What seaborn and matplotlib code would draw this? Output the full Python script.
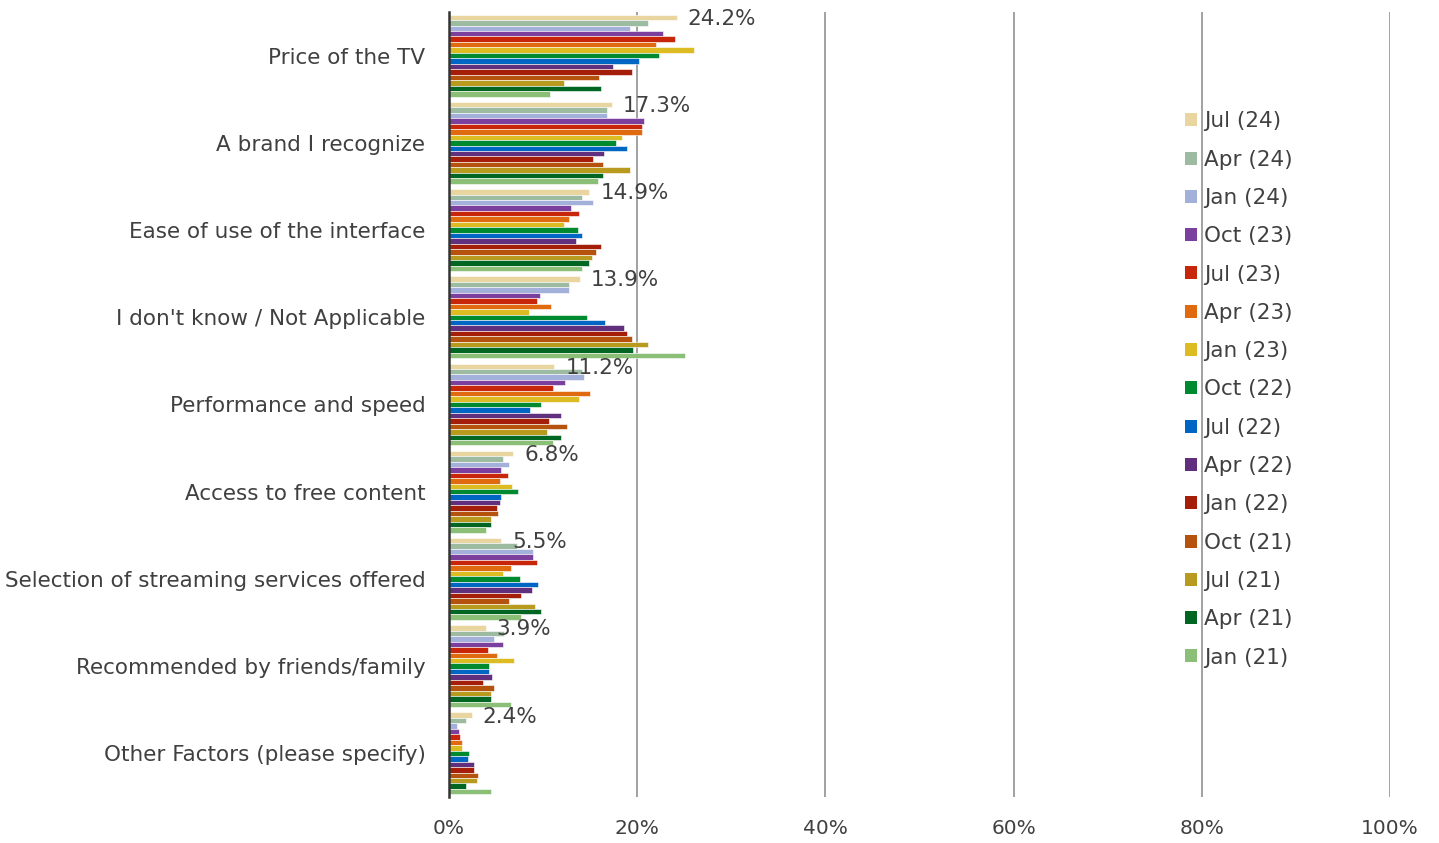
import pandas as pd
import seaborn as sns
import matplotlib.pyplot as plt
from matplotlib.patches import Patch

categories = ["Price of the TV", "A brand I recognize", "Ease of use of the interface",
              "I don't know / Not Applicable", "Performance and speed", "Access to free content",
              "Selection of streaming services offered", "Recommended by friends/family",
              "Other Factors (please specify)"]

waves = ["Jul (24)", "Apr (24)", "Jan (24)", "Oct (23)", "Jul (23)", "Apr (23)", "Jan (23)",
         "Oct (22)", "Jul (22)", "Apr (22)", "Jan (22)", "Oct (21)", "Jul (21)", "Apr (21)", "Jan (21)"]

colors = ["#E8D5A0", "#9DBBA0", "#A3B1DA", "#7B3F9E", "#C8260A", "#E06A10", "#DDBB22",
          "#008A30", "#0066C4", "#60307E", "#A41E0A", "#B5530E", "#B89A1E", "#006622", "#8BBF78"]

# percent values, one list per category, in wave order (Jul 24 ... Jan 21)
price = [24.2, 21.1, 19.2, 22.7, 24.0, 22.0, 26.0, 22.3, 20.2, 17.4, 19.5, 15.9, 12.2, 16.2, 10.7]
brand = [17.3, 16.8, 16.8, 20.7, 20.5, 20.5, 18.4, 17.7, 18.9, 16.5, 15.3, 16.4, 19.2, 16.4, 15.8]
ease = [14.9, 14.1, 15.3, 13.0, 13.8, 12.7, 12.2, 13.7, 14.1, 13.5, 16.2, 15.6, 15.2, 14.9, 14.1]
dont_know = [13.9, 12.7, 12.8, 9.7, 9.4, 10.8, 8.5, 14.7, 16.6, 18.6, 18.9, 19.5, 21.2, 19.6, 25.1]
performance = [11.2, 14.1, 14.3, 12.3, 11.0, 15.0, 13.8, 9.8, 8.6, 11.9, 10.6, 12.5, 10.4, 11.9, 11.0]
free_content = [6.8, 5.7, 6.4, 5.5, 6.3, 5.4, 6.7, 7.3, 5.5, 5.4, 5.1, 5.2, 4.5, 4.5, 3.9]
streaming = [5.5, 7.2, 8.9, 8.9, 9.4, 6.6, 5.7, 7.5, 9.5, 8.8, 7.6, 6.4, 9.1, 9.8, 7.7]
recommended = [3.9, 5.8, 4.8, 5.7, 4.1, 5.1, 6.9, 4.3, 4.2, 4.6, 3.6, 4.8, 4.5, 4.5, 6.6]
other = [2.4, 1.8, 0.9, 1.1, 1.2, 1.4, 1.4, 2.1, 2.0, 2.7, 2.7, 3.1, 3.0, 1.8, 4.5]

values = [price, brand, ease, dont_know, performance, free_content, streaming, recommended, other]

rows = []
for cat, vals in zip(categories, values):
    for w, v in zip(waves, vals):
        rows.append({"factor": cat, "wave": w, "pct": v})
df = pd.DataFrame(rows)

sns.set_style("white")
plt.rcParams['font.family'] = ['DejaVu Sans']

fig = plt.figure(figsize=(14.39, 8.43), dpi=100)
ax = fig.add_axes([449 / 1439, 1 - 797 / 843, (1390 - 449) / 1439, (797 - 12) / 843])

sns.barplot(data=df, y="factor", x="pct", hue="wave", order=categories, hue_order=waves,
            palette=colors, orient="h", width=0.94, saturation=1, edgecolor="white",
            linewidth=0.4, legend=False, ax=ax)

ax.set_xlim(0, 100)
ax.set_xticks(range(0, 101, 20))
ax.set_xticklabels([f"{t}%" for t in range(0, 101, 20)])
ax.set_xlabel("")
ax.set_ylabel("")
ax.xaxis.grid(True, color="#9a9a9a", linewidth=1.3)
ax.set_axisbelow(True)
for s in ["top", "right", "bottom"]:
    ax.spines[s].set_visible(False)
ax.spines["left"].set_color("#333333")
ax.spines["left"].set_linewidth(1.8)
ax.tick_params(axis="y", length=0, labelsize=15.5, colors="#404040", pad=17)
ax.tick_params(axis="x", length=0, labelsize=14.5, colors="#404040", pad=16)

# data labels on the most recent wave (Jul 24)
for i, vals in enumerate(values):
    v = vals[0]
    bar_y = i - 0.94 / 2 + 0.94 / 15 / 2
    ax.annotate(f"{v:.1f}%", xy=(v, bar_y), xytext=(8, -1), textcoords="offset points",
                va="center", ha="left", fontsize=15.5, color="#404040")

handles = [Patch(facecolor=c, edgecolor="none") for c in colors]
ax.legend(handles, waves, loc="upper left", bbox_to_anchor=(1166 / 1439, 1 - 92 / 843),
          bbox_transform=fig.transFigure, frameon=False, fontsize=15.5, labelcolor="#404040",
          handlelength=0.55, handleheight=0.55, handletextpad=0.3, labelspacing=0.85)

plt.savefig("out.png", dpi=100)
